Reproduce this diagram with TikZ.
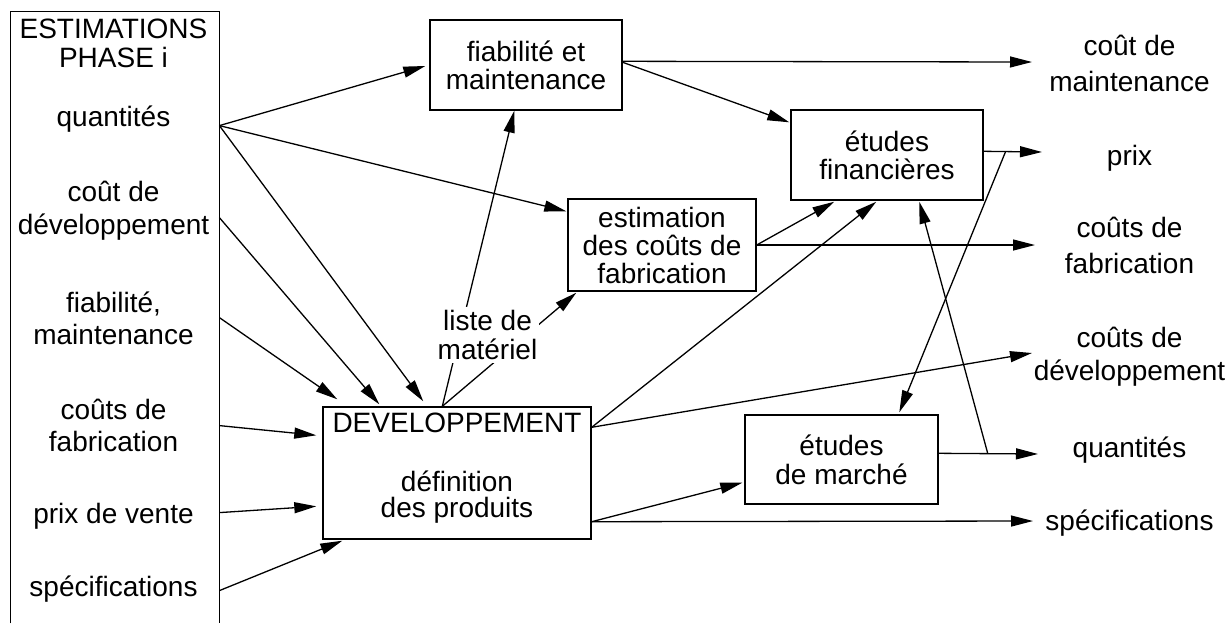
\documentclass[tikz,border=0pt]{standalone}
\usepackage{fontspec}
\setmainfont{Liberation Sans}
\usetikzlibrary{arrows.meta,calc}
\begin{document}
\begin{tikzpicture}[x=0.5pt,y=-0.5pt,
  box/.style={draw, line width=0.7pt, rectangle, inner sep=0pt, align=center, font={\fontsize{14pt}{#1}\selectfont}},
  box/.default=14pt,
  lbl/.style={inner sep=0pt, align=center, font={\fontsize{14pt}{#1}\selectfont}},
  lbl/.default=16pt,
  conn/.style={line width=0.65pt, -{Triangle[length=11pt,width=5.5pt]}}
]
\useasboundingbox (0,0) rectangle (1228,623);

% left column
\node[minimum width=104pt, minimum height=305.5pt, inner sep=0pt] (est) at (115,317.5) {};
\draw[line width=0.7pt] (est.south west) -- (est.north west) -- (est.north east) -- (est.south east);
\node[lbl=14.5pt] (e0) at (113.5,43.5) {ESTIMATIONS\\PHASE i};
\node[lbl, anchor=base] (iq) at (113.5,126) {quantités};
\node[lbl=16.5pt] (icd) at (113.5,211) {coût de\\développement};
\node[lbl] (ifm) at (113.5,318.75) {fiabilité,\\maintenance};
\node[lbl] (icf) at (113.5,425.5) {coûts de\\fabrication};
\node[lbl, anchor=base] (ipv) at (113.5,523) {prix de vente};
\node[lbl, anchor=base] (isp) at (113.5,596) {spécifications};

% boxes
\node[box, minimum width=96pt, minimum height=45pt] (fiab) at (526,65) {fiabilité et\\maintenance};
\node[box, minimum width=94pt, minimum height=46pt] (estim) at (662,245) {estimation\\des coûts de\\fabrication};
\node[box, minimum width=96pt, minimum height=45pt] (fin) at (887,155) {études\\financières};
\node[box=14.5pt, minimum width=96.5pt, minimum height=44.5pt] (mar) at (841.5,459.5) {études\\de marché};
\node[box, minimum width=134pt, minimum height=66pt] (dev) at (457,473) {};
\node[lbl=13pt] (devt) at (457,468.5) {DEVELOPPEMENT\\[16.5pt]définition\\des produits};

% right labels
\node[lbl=18pt] (ocm) at (1129.5,63.5) {coût de\\maintenance};
\node[lbl, anchor=base] (opx) at (1129.5,165) {prix};
\node[lbl=18pt] (ocf) at (1129.5,245.5) {coûts de\\fabrication};
\node[lbl=16.5pt] (ocd) at (1129.5,357) {coûts de\\développement};
\node[lbl, anchor=base] (oq) at (1129.5,457) {quantités};
\node[lbl, anchor=base] (osp) at (1129.5,530) {spécifications};

% output arrow tips
\coordinate (tcm) at (1032,62);
\coordinate (tprix) at (1042,152);
\coordinate (tcf) at (1035,245);
\coordinate (tcd) at (1032,353);
\coordinate (tq) at (1038,454);
\coordinate (ts) at (1033,521);

% from estimations
\coordinate (q0) at ($(est.north east)+(0,114)$);
\draw[conn] (q0) -- ($(fiab.west)+(-4,1)$);
\draw[conn] (q0) -- ($(estim.north west)+(-1,13)$);
\draw[conn] (q0) -- ($(dev.north west)+(101,-5)$);
\draw[conn] ($(est.north east)+(0,206)$) -- ($(dev.north west)+(57,-2)$);
\draw[conn] ($(est.north east)+(0,306)$) -- ($(dev.north west)+(15,-7)$);
\draw[conn] ($(est.north east)+(0,414)$) -- ($(dev.north west)+(-6,29)$);
\draw[conn] ($(est.north east)+(0,501)$) -- ($(dev.north west)+(-6,100)$);
\draw[conn] ($(est.north east)+(0,579)$) -- ($(dev.south west)+(20,1)$);

% liste de materiel
\coordinate (lm) at ($(dev.north west)+(120,0)$);
\draw[conn] (lm) -- ($(fiab.south west)+(85,0)$);
\draw[conn] (lm) -- ($(estim.south west)+(9,1)$);
\node[lbl=14.5pt, fill=white, inner xsep=0.75pt, inner ysep=1.5pt] (lmat) at (487.5,335) {liste de\\matériel};

% fiabilite outputs
\draw[conn] ($(fiab.north east)+(0,42)$) -- (tcm);
\draw[conn] ($(fiab.north east)+(0,43)$) -- ($(fin.north west)+(-1,13)$);

% estimation outputs
\draw[conn] (estim.east) -- ($(fin.south west)+(44,1)$);
\draw[conn] (estim.east) -- (tcf);

% developpement outputs
\draw[conn] ($(dev.north east)+(0,21)$) -- ($(fin.south west)+(86,1)$);
\draw[conn] ($(dev.north east)+(0,21)$) -- (tcd);
\draw[conn] ($(dev.south east)+(0,-18)$) -- ($(mar.south west)+(-2,-22)$);
\draw[conn] ($(dev.south east)+(0,-18)$) -- (ts);

% etudes financieres outputs
\draw[conn] ($(fin.north east)+(0,42)$) -- (tprix);
\draw[conn] ($(fin.north east)+(22,42)$) -- ($(mar.north west)+(155,-2)$);

% etudes de marche outputs
\draw[conn] ($(mar.north east)+(0,39)$) -- (tq);
\draw[conn] ($(mar.north east)+(49,39)$) -- ($(fin.south west)+(129,1)$);
\end{tikzpicture}
\end{document}
